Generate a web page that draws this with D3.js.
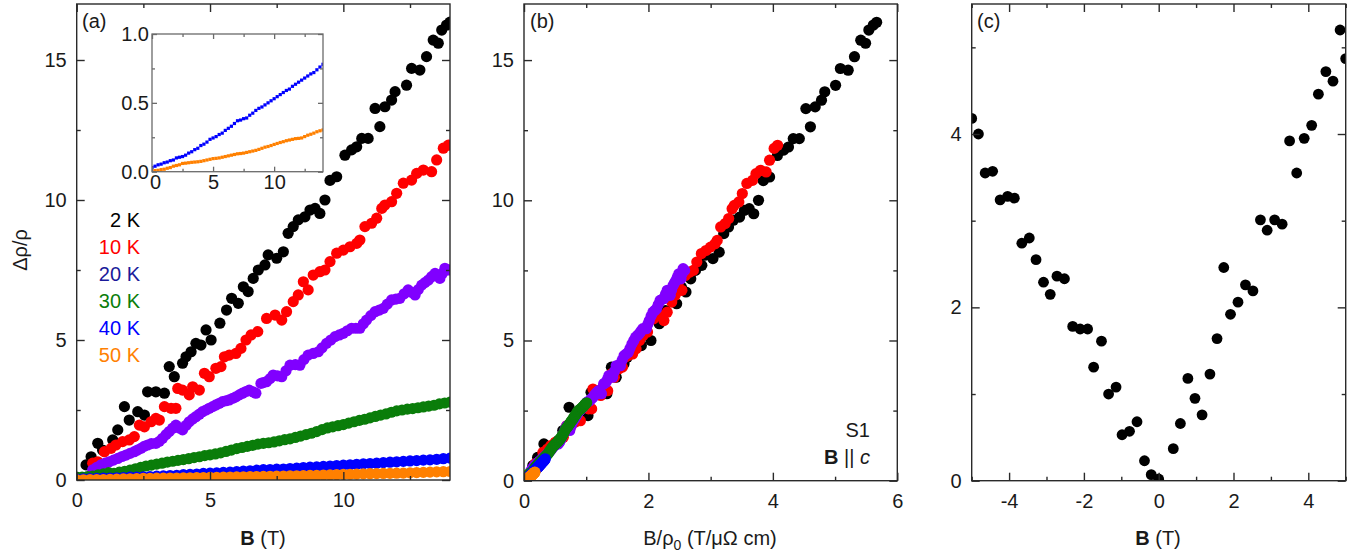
<!DOCTYPE html>
<html>
<head>
<meta charset="utf-8">
<script src="https://cdn.jsdelivr.net/npm/d3@7"></script>
<style>
  body { margin: 0; background: #fff; }
  text { font-family: "Liberation Sans", Arial, sans-serif; }
</style>
</head>
<body>
<script>
// temperatures, colours and zero-field resistivity for each curve
var tempLabels = ["2 K", "10 K", "20 K", "30 K", "40 K", "50 K"];
var legendColors = ["#000000", "#ff0000", "#1a1a9a", "#0a7d0a", "#0000ff", "#ff8000"];
var seriesColors = ["#000000", "#ff0000", "#8000ff", "#0a7d0a", "#0000ff", "#ff8000"];
var rho0 = [2.47, 3.42, 5.4, 13.9, 41, 80];   // µΩ cm, used for panel (b)

// panel (a) data, [B (T), Δρ/ρ]
var s2K = [[0.35,0.54],[0.54,0.83],[0.79,1.31],[0.97,1.07],[1.35,1.43],[1.54,1.79],[1.79,2.62],[1.97,2.14],
  [2.29,2.44],[2.54,2.32],[2.66,3.15],[2.97,3.15],[3.29,3.10],[3.47,4.05],[3.66,3.69],[3.97,4.17],[4.10,4.40],
  [4.29,4.58],[4.47,4.88],[4.66,4.82],[4.85,5.36],[5.04,5.00],[5.37,5.60],[5.62,6.07],[5.81,6.49],[6.06,6.31],
  [6.25,6.90],[6.43,6.73],[6.62,7.20],[6.81,7.50],[7.06,7.68],[7.18,8.04],[7.50,7.92],[7.75,8.15],[7.93,8.81],
  [8.12,9.05],[8.31,9.29],[8.56,9.40],[8.75,9.64],[8.94,9.70],[9.12,9.52],[9.31,10.0],[9.50,10.7],[9.75,10.83],
  [10.06,11.6],[10.31,11.79],[10.50,11.9],[10.69,12.2],[10.93,12.2],[11.19,13.27],[11.37,12.62],[11.56,13.33],
  [11.81,13.57],[11.94,13.87],[12.37,14.1],[12.56,14.7],[12.87,14.64],[13.12,15.12],[13.37,15.71],[13.56,15.6],
  [13.69,16.07],[13.87,16.25],[14.0,16.35]];
var s10K = [[0.6,0.6],[0.79,0.65],[1.04,1.01],[1.29,1.13],[1.47,1.25],[1.72,1.37],[1.97,1.43],[2.16,1.55],
  [2.35,1.96],[2.54,1.9],[2.79,2.08],[2.97,2.2],[3.1,2.14],[3.29,2.62],[3.54,2.56],[3.72,2.56],[3.79,3.27],
  [3.97,3.21],[4.22,3.04],[4.35,3.33],[4.6,3.21],[4.79,3.81],[4.97,3.69],[5.22,3.99],[5.41,4.05],[5.54,4.4],
  [5.72,4.46],[5.97,4.52],[6.16,4.7],[6.35,5.0],[6.54,5.18],[6.79,5.3],[7.12,5.77],[7.44,5.89],[7.69,5.71],
  [7.87,6.01],[8.12,6.37],[8.31,6.61],[8.5,7.08],[8.68,6.79],[8.87,7.32],[9.12,7.44],[9.31,7.5],[9.5,7.8],
  [9.75,8.1],[10.0,8.21],[10.25,8.33],[10.5,8.45],[10.62,8.57],[10.81,9.05],[11.06,9.17],[11.25,9.35],
  [11.44,9.7],[11.56,9.82],[11.81,9.94],[12.0,10.24],[12.25,10.6],[12.56,10.71],[12.75,10.95],[13.0,11.07],
  [13.31,11.01],[13.5,11.43],[13.75,11.85],[13.94,11.96]];
var s20K = [[0.6,0.36],[0.75,0.45],[0.91,0.54],[1.07,0.6],[1.22,0.65],[1.38,0.71],[1.54,0.77],[1.7,0.84],
  [1.85,0.89],[2.0,0.95],[2.16,1.01],[2.28,1.07],[2.41,1.13],[2.53,1.2],[2.66,1.25],[2.8,1.3],[2.97,1.31],
  [3.1,1.38],[3.22,1.49],[3.35,1.62],[3.47,1.73],[3.6,1.85],[3.72,1.96],[3.85,1.86],[3.97,1.79],[4.1,1.95],
  [4.22,2.08],[4.35,2.18],[4.47,2.26],[4.6,2.35],[4.72,2.44],[4.85,2.5],[4.97,2.56],[5.1,2.62],[5.22,2.68],
  [5.35,2.74],[5.47,2.8],[5.6,2.83],[5.72,2.86],[5.85,2.92],[5.97,2.97],[6.1,3.04],[6.22,3.1],[6.35,3.16],
  [6.47,3.21],[6.6,3.15],[6.72,3.1],[6.91,3.45],[7.0,3.48],[7.12,3.51],[7.25,3.62],[7.37,3.75],[7.53,3.72],
  [7.69,3.69],[7.85,3.9],[8.0,4.1],[8.2,4.12],[8.37,4.1],[8.52,4.3],[8.68,4.46],[8.87,4.52],[9.06,4.58],
  [9.2,4.72],[9.37,4.88],[9.53,5.0],[9.69,5.12],[9.85,5.18],[10.0,5.24],[10.15,5.33],[10.31,5.42],[10.47,5.42],
  [10.62,5.42],[10.75,5.58],[10.87,5.71],[11.03,5.87],[11.19,6.01],[11.35,6.07],[11.5,6.13],[11.65,6.28],
  [11.81,6.43],[11.97,6.46],[12.12,6.49],[12.28,6.65],[12.43,6.79],[12.56,6.7],[12.69,6.61],[12.81,6.8],
  [12.94,6.96],[13.06,7.05],[13.19,7.14],[13.31,7.26],[13.44,7.38],[13.53,7.3],[13.62,7.2],[13.72,7.38],
  [13.81,7.56],[13.94,7.5]];
var s30K = [[0.0,0.1],[0.2,0.1],[0.4,0.12],[0.6,0.14],[0.8,0.18],[1.0,0.22],[1.2,0.26],[1.4,0.24],[1.6,0.28],
  [1.8,0.31],[2.0,0.35],[2.2,0.4],[2.4,0.45],[2.6,0.5],[2.8,0.53],[3.0,0.57],[3.2,0.6],[3.4,0.64],[3.6,0.67],
  [3.8,0.7],[4.0,0.73],[4.2,0.76],[4.4,0.8],[4.6,0.83],[4.8,0.87],[5.0,0.9],[5.2,0.93],[5.4,0.97],[5.6,1.02],
  [5.8,1.07],[6.0,1.12],[6.2,1.16],[6.4,1.2],[6.6,1.24],[6.8,1.28],[7.0,1.31],[7.2,1.33],[7.4,1.36],[7.6,1.4],
  [7.8,1.44],[8.0,1.47],[8.2,1.52],[8.4,1.57],[8.6,1.62],[8.8,1.67],[9.0,1.73],[9.2,1.8],[9.4,1.86],[9.6,1.9],
  [9.8,1.94],[10.0,1.98],[10.2,2.03],[10.4,2.08],[10.6,2.13],[10.8,2.17],[11.0,2.22],[11.2,2.27],[11.4,2.32],
  [11.6,2.36],[11.8,2.42],[12.0,2.47],[12.2,2.5],[12.4,2.53],[12.6,2.55],[12.8,2.58],[13.0,2.61],[13.2,2.64],
  [13.4,2.67],[13.6,2.72],[13.8,2.75],[14.0,2.78]];
var s40K = [[0.0,0.03],[0.25,0.04],[0.5,0.05],[0.75,0.055],[1.0,0.065],[1.25,0.07],[1.5,0.08],[1.75,0.085],
  [2.0,0.1],[2.25,0.105],[2.5,0.11],[2.75,0.12],[3.0,0.135],[3.25,0.145],[3.5,0.16],[3.75,0.17],[4.0,0.19],
  [4.25,0.2],[4.5,0.215],[4.75,0.235],[5.0,0.245],[5.25,0.255],[5.5,0.27],[5.75,0.28],[6.0,0.3],[6.25,0.315],
  [6.5,0.33],[6.75,0.35],[7.0,0.37],[7.25,0.375],[7.5,0.385],[7.75,0.39],[8.0,0.41],[8.25,0.425],[8.5,0.445],
  [8.75,0.46],[9.0,0.47],[9.25,0.485],[9.5,0.5],[9.75,0.515],[10.0,0.53],[10.25,0.545],[10.5,0.56],[10.75,0.575],
  [11.0,0.59],[11.25,0.6],[11.5,0.62],[11.75,0.635],[12.0,0.65],[12.25,0.665],[12.5,0.68],[12.75,0.695],
  [13.0,0.71],[13.25,0.72],[13.5,0.74],[13.75,0.76],[14.0,0.78]];
var s50K = [[0.0,0.005],[0.25,0.008],[0.5,0.01],[0.75,0.015],[1.0,0.018],[1.25,0.025],[1.5,0.03],[1.75,0.04],
  [2.0,0.045],[2.25,0.05],[2.5,0.06],[2.75,0.062],[3.0,0.065],[3.25,0.068],[3.5,0.07],[3.75,0.072],[4.0,0.075],
  [4.25,0.08],[4.5,0.085],[4.75,0.09],[5.0,0.095],[5.25,0.097],[5.5,0.1],[5.75,0.105],[6.0,0.11],[6.25,0.115],
  [6.5,0.12],[6.75,0.125],[7.0,0.13],[7.25,0.132],[7.5,0.135],[7.75,0.14],[8.0,0.145],[8.25,0.15],[8.5,0.155],
  [8.75,0.162],[9.0,0.17],[9.25,0.178],[9.5,0.183],[9.75,0.19],[10.0,0.198],[10.25,0.205],[10.5,0.212],
  [10.75,0.218],[11.0,0.225],[11.25,0.23],[11.5,0.235],[11.75,0.24],[12.0,0.242],[12.25,0.245],[12.5,0.255],
  [12.75,0.265],[13.0,0.272],[13.25,0.28],[13.5,0.29],[13.75,0.297],[14.0,0.303]];
var allSeries = [s2K, s10K, s20K, s30K, s40K, s50K];

// panel (c) data
var fieldC = [-5.0,-4.82,-4.64,-4.44,-4.24,-4.04,-3.86,-3.66,-3.46,-3.28,-3.08,-2.9,-2.72,-2.52,-2.3,-2.1,-1.9,
  -1.74,-1.53,-1.34,-1.14,-0.98,-0.78,-0.58,-0.38,-0.2,0.0,0.39,0.58,0.78,0.97,1.16,1.37,1.56,1.74,1.92,2.12,
  2.32,2.52,2.72,2.9,3.1,3.3,3.5,3.69,3.89,4.09,4.27,4.47,4.66,4.85,5.0];
var mrC = [4.18,4.0,3.55,3.57,3.24,3.28,3.26,2.74,2.80,2.55,2.29,2.15,2.36,2.33,1.78,1.75,1.75,1.31,1.61,1.0,1.08,
  0.53,0.57,0.68,0.23,0.07,0.02,0.37,0.66,1.18,0.95,0.76,1.23,1.64,2.46,1.92,2.06,2.26,2.19,3.01,2.89,3.01,2.96,
  3.92,3.55,3.95,4.1,4.46,4.72,4.61,5.2,4.87];

var W = 1359, H = 560;
var FS = 20;
var svg = d3.select("body").append("svg").attr("width", W).attr("height", H);
var frameColor = "#2a2a2a";

// draws box with inward ticks on four sides, labels on left and bottom
function drawFrame(g, x, y, o) {
  var xr = x.range(), yr = y.range();
  function mk(axis, vals, size, fmt, tr, pad) {
    var a = g.append("g").attr("transform", tr)
      .call(axis.tickValues(vals).tickSize(-size).tickSizeOuter(0).tickPadding(pad).tickFormat(fmt));
    a.select(".domain").remove();
    a.selectAll("line").attr("stroke", o.stroke).attr("stroke-width", o.sw);
    a.attr("font-family", null).attr("font-size", null);
    a.selectAll("text").attr("fill", "#1a1a1a").style("font-size", o.fs + "px");
    return a;
  }
  var none = function() { return ""; };
  o.bottomAxis = mk(d3.axisBottom(x), o.xMajor, o.big, o.xFmt, "translate(0," + yr[0] + ")", o.xPad);
  mk(d3.axisBottom(x), o.xMinor, o.small, none, "translate(0," + yr[0] + ")", 0);
  mk(d3.axisTop(x), o.xMajor, o.big, none, "translate(0," + yr[1] + ")", 0);
  mk(d3.axisTop(x), o.xMinor, o.small, none, "translate(0," + yr[1] + ")", 0);
  mk(d3.axisLeft(y), o.yMajor, o.big, o.yFmt, "translate(" + xr[0] + ",0)", o.yPad);
  mk(d3.axisLeft(y), o.yMinor, o.small, none, "translate(" + xr[0] + ",0)", 0);
  mk(d3.axisRight(y), o.yMajor, o.big, none, "translate(" + xr[1] + ",0)", 0);
  mk(d3.axisRight(y), o.yMinor, o.small, none, "translate(" + xr[1] + ",0)", 0);
  g.append("rect").attr("x", xr[0]).attr("y", yr[1])
    .attr("width", xr[1] - xr[0]).attr("height", yr[0] - yr[1])
    .attr("fill", "none").attr("stroke", o.stroke).attr("stroke-width", o.sw);
  return o;
}

function clipFor(id, x, y) {
  var xr = x.range(), yr = y.range();
  svg.append("clipPath").attr("id", id).append("rect")
    .attr("x", xr[0]).attr("y", yr[1]).attr("width", xr[1] - xr[0]).attr("height", yr[0] - yr[1]);
  return svg.append("g").attr("clip-path", "url(#" + id + ")");
}

function label(x, y, anchor) {
  return svg.append("text").attr("x", x).attr("y", y).attr("text-anchor", anchor || "start")
    .style("font-size", FS + "px").attr("fill", "#1a1a1a");
}

var mainOpts = { stroke: frameColor, sw: 1.4, big: 8, small: 4, fs: FS, xPad: 13, yPad: 10 };
var fmtInt = function(d) { return String(d); };   // plain hyphen for negatives
var R = 5.6;

// ---------- panel (a) ----------
var xa = d3.scaleLinear().domain([0, 14]).range([76.7, 450]);
var ya = d3.scaleLinear().domain([0, 17]).range([480, 4]);
var pa = clipFor("clipA", xa, ya);
allSeries.forEach(function(s, i) {
  pa.append("g").selectAll("circle").data(s).enter().append("circle")
    .attr("cx", function(d) { return xa(d[0]); })
    .attr("cy", function(d) { return ya(d[1]); })
    .attr("r", R).attr("fill", seriesColors[i]);
});
drawFrame(svg.append("g"), xa, ya, Object.assign({}, mainOpts, {
  xMajor: [0, 5, 10], xMinor: [2.5, 7.5, 12.5], yMajor: [0, 5, 10, 15], yMinor: [2.5, 7.5, 12.5],
  xFmt: fmtInt, yFmt: fmtInt }));

// inset of the 40 K and 50 K curves
var xi = d3.scaleLinear().domain([0, 14]).range([152, 323]);
var yi = d3.scaleLinear().domain([0, 1]).range([171.7, 34]);
svg.append("rect").attr("x", 152).attr("y", 34).attr("width", 171).attr("height", 137.7).attr("fill", "#fff");
var pi = clipFor("clipI", xi, yi);
[4, 5].forEach(function(k) {
  pi.append("g").selectAll("rect").data(allSeries[k]).enter().append("rect")
    .attr("x", function(d) { return xi(d[0]) - 1.6; })
    .attr("y", function(d) { return yi(d[1]) - 1.6; })
    .attr("width", 3.2).attr("height", 3.2).attr("fill", seriesColors[k]);
});
var inset = drawFrame(svg.append("g"), xi, yi, {
  stroke: "#6a6a6a", sw: 1.3, big: 5, small: 3, fs: FS, xPad: 3, yPad: 3,
  xMajor: [0, 5, 10], xMinor: [2.5, 7.5, 12.5], yMajor: [0, 0.5, 1.0], yMinor: [0.25, 0.75],
  xFmt: fmtInt, yFmt: d3.format(".1f") });
// nudge the inset's "0" so it clears "0.0"
inset.bottomAxis.selectAll("text").filter(function(d) { return d === 0; }).attr("dx", 3);

// legend
svg.append("g").selectAll("text").data(tempLabels).enter().append("text")
  .attr("x", 140).attr("y", function(d, i) { return 226.7 + i * 27; })
  .attr("text-anchor", "end").style("font-size", FS + "px")
  .attr("fill", function(d, i) { return legendColors[i]; })
  .text(function(d) { return d; });

label(82, 28).text("(a)");
svg.append("text").attr("transform", "translate(27,250) rotate(-90)").attr("text-anchor", "middle")
  .style("font-size", FS + "px").attr("fill", "#1a1a1a").text("Δρ/ρ");
var la = label(263, 545, "middle");
la.append("tspan").attr("font-weight", "bold").text("B");
la.append("tspan").text(" (T)");

// ---------- panel (b) ----------
var xb = d3.scaleLinear().domain([0, 6]).range([524, 897.3]);
var yb = d3.scaleLinear().domain([0, 17]).range([480.7, 4]);
var pb = clipFor("clipB", xb, yb);
allSeries.forEach(function(s, i) {
  pb.append("g").selectAll("circle").data(s).enter().append("circle")
    .attr("cx", function(d) { return xb(d[0] / rho0[i]); })
    .attr("cy", function(d) { return yb(d[1]); })
    .attr("r", R).attr("fill", seriesColors[i]);
});
drawFrame(svg.append("g"), xb, yb, Object.assign({}, mainOpts, {
  xMajor: [0, 2, 4, 6], xMinor: [1, 3, 5], yMajor: [0, 5, 10, 15], yMinor: [2.5, 7.5, 12.5],
  xFmt: fmtInt, yFmt: fmtInt }));
label(530, 28).text("(b)");
label(870, 437, "end").text("S1");
var bc = label(870, 464, "end");
bc.append("tspan").attr("font-weight", "bold").text("B");
bc.append("tspan").text(" || ");
bc.append("tspan").attr("font-style", "italic").text("c");
var lb = label(710, 545, "middle");
lb.append("tspan").text("B/ρ");
lb.append("tspan").attr("dy", 5).style("font-size", "14px").text("0");
lb.append("tspan").attr("dy", -5).text(" (T/μΩ cm)");

// ---------- panel (c) ----------
var xc = d3.scaleLinear().domain([-5, 5]).range([971.7, 1345.7]);
var yc = d3.scaleLinear().domain([0, 5.5]).range([480.7, 4]);
var pc = clipFor("clipC", xc, yc);
pc.append("g").selectAll("circle").data(fieldC).enter().append("circle")
  .attr("cx", function(d) { return xc(d); })
  .attr("cy", function(d, i) { return yc(mrC[i]); })
  .attr("r", 5.4).attr("fill", "#000");
drawFrame(svg.append("g"), xc, yc, Object.assign({}, mainOpts, {
  xMajor: [-4, -2, 0, 2, 4], xMinor: [-5, -3, -1, 1, 3, 5], yMajor: [0, 2, 4], yMinor: [1, 3, 5],
  xFmt: fmtInt, yFmt: fmtInt }));
label(977, 28).text("(c)");
var lc = label(1158, 545, "middle");
lc.append("tspan").attr("font-weight", "bold").text("B");
lc.append("tspan").text(" (T)");
</script>
</body>
</html>
